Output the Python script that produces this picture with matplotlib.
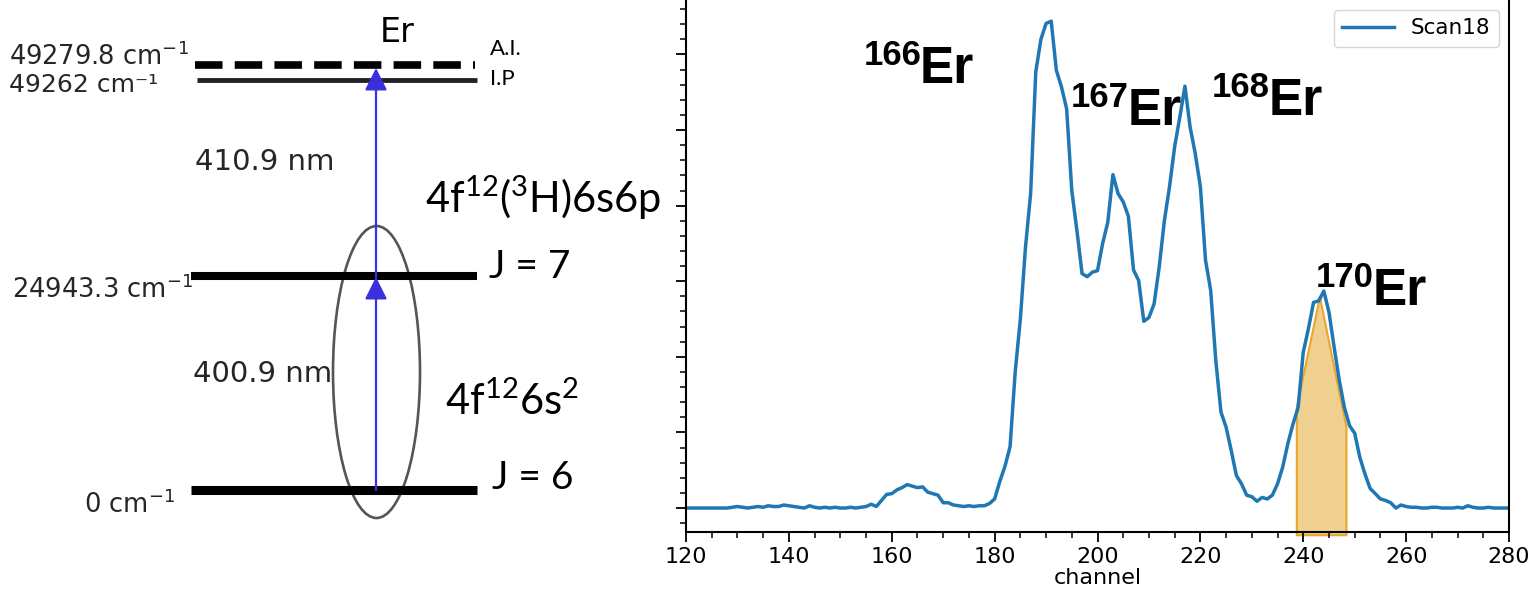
import matplotlib
matplotlib.use("Agg")
import matplotlib.pyplot as plt
from matplotlib.patches import Ellipse
import numpy as np

plt.rcParams["mathtext.fontset"] = "custom"
plt.rcParams["mathtext.rm"] = "DejaVu Sans"
plt.rcParams["mathtext.sf"] = "Lato"

# scan data (channel vs signal, arbitrary units)
channels = np.arange(120, 281)
signal = [
    0.0, 0.0, 0.0, 0.0, 0.0, 0.0, 0.0, 0.0, 0.0, 0.01,
    0.02, 0.01, 0.0, 0.01, 0.02, 0.01, 0.03, 0.02, 0.02, 0.04,
    0.03, 0.02, 0.01, 0.0, 0.03, 0.01, 0.0, 0.01, 0.0, 0.01,
    0.0, 0.0, 0.01, 0.0, 0.01, 0.02, 0.05, 0.02, 0.10, 0.18,
    0.19, 0.24, 0.27, 0.31, 0.29, 0.27, 0.28, 0.21, 0.19, 0.17,
    0.07, 0.07, 0.04, 0.03, 0.02, 0.03, 0.02, 0.03, 0.03, 0.06,
    0.12, 0.35, 0.55, 0.81, 1.80, 2.50, 3.45, 4.16, 5.77, 6.20,
    6.41, 6.44, 5.79, 5.57, 5.28, 4.20, 3.67, 3.10, 3.06, 3.12,
    3.14, 3.50, 3.78, 4.41, 4.16, 4.05, 3.86, 3.15, 3.01, 2.47,
    2.52, 2.70, 3.19, 3.80, 4.25, 4.78, 5.17, 5.58, 5.04, 4.69,
    4.25, 3.28, 2.88, 1.95, 1.27, 1.07, 0.76, 0.43, 0.32, 0.17,
    0.15, 0.09, 0.14, 0.12, 0.17, 0.32, 0.54, 0.85, 1.11, 1.33,
    2.06, 2.37, 2.72, 2.74, 2.87, 2.59, 2.13, 1.69, 1.33, 1.09,
    0.99, 0.67, 0.45, 0.26, 0.19, 0.12, 0.10, 0.07, 0.0, 0.04,
    0.02, 0.01, 0.01, 0.0, 0.0, 0.01, 0.01, 0.0, 0.0, 0.0,
    0.01, 0.0, 0.03, 0.01, 0.0, 0.0, 0.01, 0.0, 0.0, 0.0,
    0.0,
]

# 170Er integration window
shade_x = [238.75, 238.75, 243.25, 248.4, 248.4]
shade_y = [-0.36, 1.33, 2.79, 1.07, -0.36]

isotopes = ["166", "167", "168", "170"]
iso_x = [165.5, 205.8, 233.2, 253.5]
iso_y = [5.62, 5.07, 5.20, 2.69]

# level scheme
level_names = ["A.I.", "I.P", "J = 7", "J = 6"]
level_energy = ["49279.8 cm$^{-1}$", "49262 cm\u207b\u00b9", "24943.3 cm$^{-1}$", "0 cm$^{-1}$"]
wavelengths = ["400.9 nm", "410.9 nm"]
configs = [r"$\mathsf{4f^{12}(^{3}H)6s6p}$", r"$\mathsf{4f^{12}6s^{2}}$"]

fig = plt.figure(figsize=(15.34, 5.93), dpi=100)

# ---------- left: level diagram (pixel-like coords) ----------
d = fig.add_axes([0, 0, 680 / 1534, 1])
d.set_xlim(0, 680)
d.set_ylim(593, 0)
d.axis("off")

d.plot([195, 475], [65, 65], color="k", lw=5.5, solid_capstyle="butt",
       dash_capstyle="butt", linestyle=(0, (3.6, 1.6)))
d.plot([197, 477], [80, 80], color="#1e2428", lw=3.5, solid_capstyle="butt")
d.plot([191, 477], [276, 276], color="k", lw=5.8, solid_capstyle="butt")
d.plot([191, 477], [490, 490], color="k", lw=6.5, solid_capstyle="butt")

d.add_patch(Ellipse((376.5, 372), 87, 292, fill=False, ec="#555555", lw=1.9))

arrow_col = "#3b2fdc"
d.annotate("", xy=(376, 277), xytext=(376, 490),
           arrowprops=dict(arrowstyle="-|>", color=arrow_col, lw=1.6, mutation_scale=34,
                           shrinkA=0, shrinkB=0))
d.annotate("", xy=(376, 68), xytext=(376, 277),
           arrowprops=dict(arrowstyle="-|>", color=arrow_col, lw=1.6, mutation_scale=34,
                           shrinkA=0, shrinkB=0))

txt_col = "#262626"
d.text(397, 42, "Er", fontsize=24, ha="center", va="baseline")
d.text(9, 65, level_energy[0], fontsize=18.5, va="baseline", color=txt_col)
d.text(9, 92, level_energy[1], fontsize=18, va="baseline", color=txt_col)
d.text(12, 298, level_energy[2], fontsize=18.5, va="baseline", color=txt_col)
d.text(84, 513, level_energy[3], fontsize=18.5, va="baseline", color=txt_col)
d.text(490, 55, level_names[0], fontsize=16, family="Lato", va="baseline")
d.text(490, 85, level_names[1], fontsize=16, family="Lato", va="baseline")
d.text(489, 278, level_names[2], fontsize=28, family="Lato", va="baseline")
d.text(492, 489, level_names[3], fontsize=28, family="Lato", va="baseline")
d.text(195, 170, wavelengths[1], fontsize=21, va="baseline", color=txt_col)
d.text(193, 382, wavelengths[0], fontsize=21, va="baseline", color=txt_col)
d.text(425, 213, configs[0], fontsize=30, va="baseline")
d.text(445, 415, configs[1], fontsize=30, va="baseline")

# ---------- right: spectrum ----------
ax = fig.add_axes([686 / 1534, 61 / 593, 823 / 1534, 532 / 593])
ax.fill(shade_x, shade_y, facecolor="#efd08e", edgecolor="#e9a62b", lw=1.5,
        zorder=1, clip_on=False)
ax.plot(channels, signal, color="#1f77b4", lw=2.5, label="Scan18", zorder=2)

for lab, x, y in zip(isotopes, iso_x, iso_y):
    ax.text(x, y, "Er", fontsize=37, weight="bold", family="Liberation Sans",
            ha="left", va="baseline")
    ax.annotate(lab, xy=(x, y), xytext=(1, 13), textcoords="offset points",
                fontsize=25, weight="bold", family="Liberation Sans",
                ha="right", va="baseline")

ax.set_xlim(120, 280)
ax.set_ylim(-0.317, 6.72)
ax.set_xticks(np.arange(120, 281, 20))
ax.set_xticks(np.arange(120, 281, 5), minor=True)
ax.set_yticks(np.arange(0, 7, 1))
ax.set_yticks(np.arange(-0.2, 6.7, 0.2), minor=True)
ax.set_yticklabels([])
ax.tick_params(axis="both", which="major", length=7, width=1.3, labelsize=16)
ax.tick_params(axis="both", which="minor", length=4, width=1.1)
ax.spines["top"].set_visible(False)
for s in ["left", "bottom", "right"]:
    ax.spines[s].set_linewidth(1.5)
ax.set_xlabel("channel", fontsize=16, labelpad=1)
ax.legend(loc="upper right", fontsize=15.5, handlelength=2.4, borderaxespad=0.45)

fig.savefig("out.png", dpi=100)
